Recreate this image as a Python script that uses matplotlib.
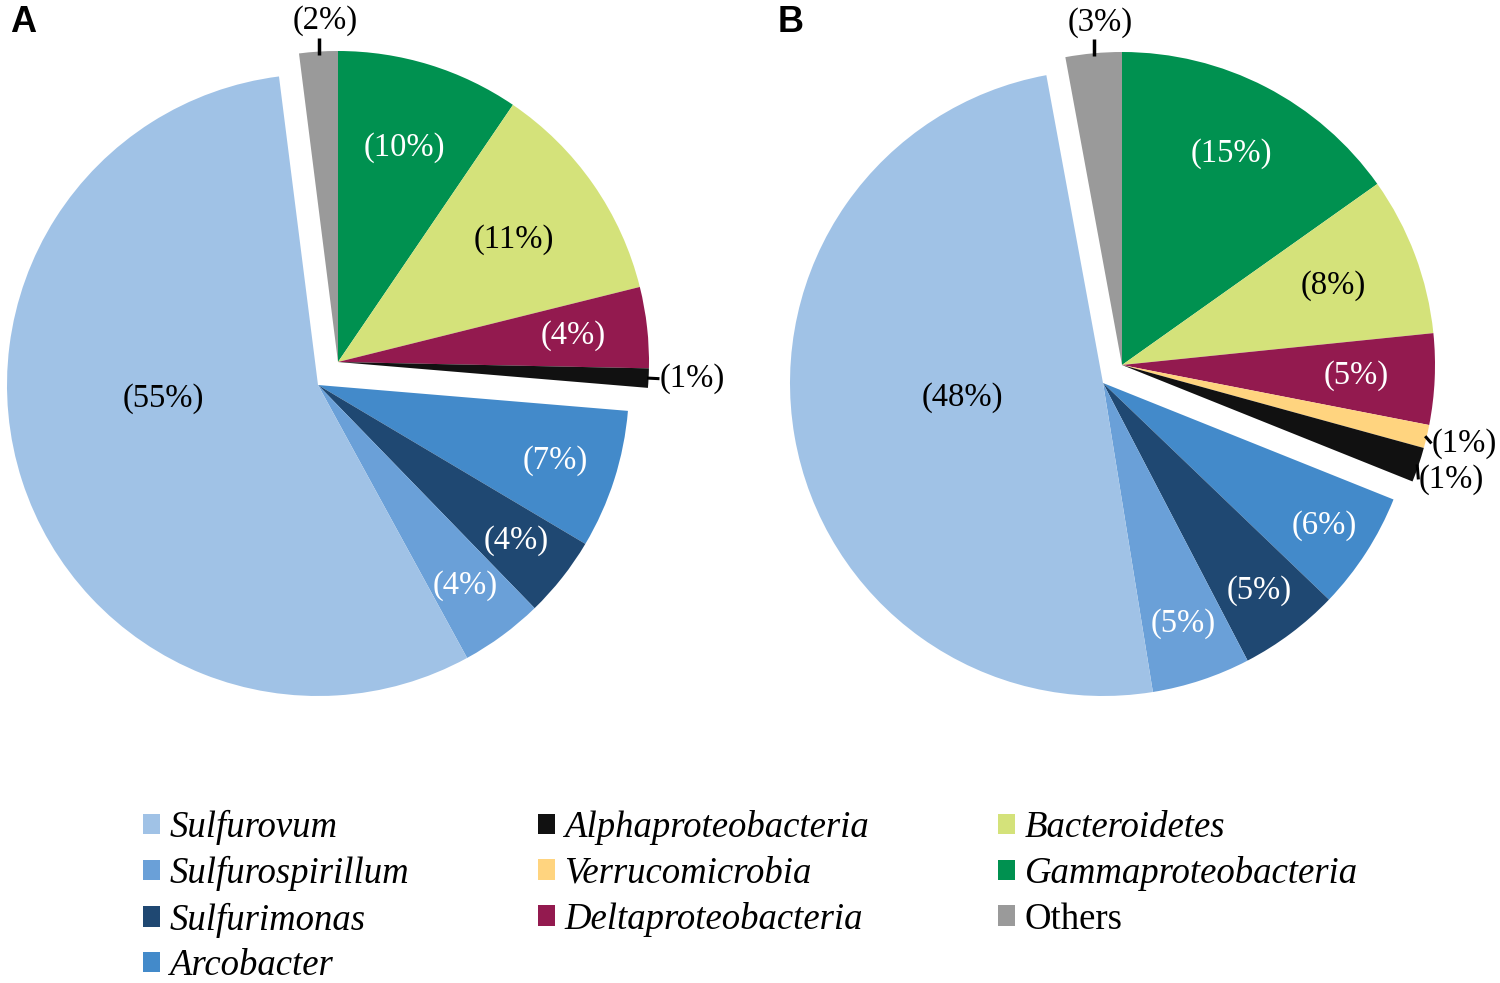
import matplotlib
matplotlib.use('Agg')
import matplotlib.pyplot as plt
import numpy as np
from matplotlib.patches import Patch
from matplotlib.font_manager import FontProperties

# ---------------- data ----------------
legend_order = ['Sulfurovum', 'Sulfurospirillum', 'Sulfurimonas', 'Arcobacter',
                'Alphaproteobacteria', 'Verrucomicrobia', 'Deltaproteobacteria',
                'Bacteroidetes', 'Gammaproteobacteria', 'Others']

# clockwise from 12 o'clock
pie_order = ['Gammaproteobacteria', 'Bacteroidetes', 'Deltaproteobacteria',
             'Verrucomicrobia', 'Alphaproteobacteria', 'Arcobacter',
             'Sulfurimonas', 'Sulfurospirillum', 'Sulfurovum', 'Others']

values_A = [9.5, 11.6, 4.2, 0.0, 1.0, 7.2, 4.2, 4.3, 55.9, 2.0]
labels_A = ['(10%)', '(11%)', '(4%)', '', '(1%)', '(7%)', '(4%)', '(4%)', '(55%)', '(2%)']

values_B = [15.2, 8.2, 4.7, 1.2, 1.8, 6.1, 5.2, 5.1, 49.7, 2.9]
labels_B = ['(15%)', '(8%)', '(5%)', '(1%)', '(1%)', '(6%)', '(5%)', '(5%)', '(48%)', '(3%)']

exploded = ['Others', 'Gammaproteobacteria', 'Bacteroidetes',
            'Deltaproteobacteria', 'Verrucomicrobia', 'Alphaproteobacteria']

# ---------------- styles ----------------
colors = {
    'Sulfurovum': '#A0C2E6',
    'Sulfurospirillum': '#6AA0D8',
    'Sulfurimonas': '#1F4872',
    'Arcobacter': '#438ACA',
    'Alphaproteobacteria': '#111111',
    'Verrucomicrobia': '#FFD47F',
    'Deltaproteobacteria': '#931A4F',
    'Bacteroidetes': '#D4E27A',
    'Gammaproteobacteria': '#009150',
    'Others': '#9A9A9A',
}

# (mode, distance, angle tweak, text colour)
layout_A = {
    'Gammaproteobacteria': ('in', 0.72, 0, 'white'),
    'Bacteroidetes': ('in', 0.69, 0, 'black'),
    'Deltaproteobacteria': ('in', 0.76, 0, 'white'),
    'Alphaproteobacteria': ('side', 1.035, 0, 'black'),
    'Arcobacter': ('in', 0.80, 0, 'white'),
    'Sulfurimonas': ('in', 0.81, 0, 'white'),
    'Sulfurospirillum': ('in', 0.80, 0, 'white'),
    'Sulfurovum': ('in', 0.50, -13, 'black'),
    'Others': ('top', 1.0, 0, 'black'),
}
layout_B = {
    'Gammaproteobacteria': ('in', 0.76, 0, 'white'),
    'Bacteroidetes': ('in', 0.72, 0, 'black'),
    'Deltaproteobacteria': ('in', 0.75, 0, 'white'),
    'Verrucomicrobia': ('side', 1.02, -1, 'black'),
    'Alphaproteobacteria': ('side', 1.015, -2.5, 'black'),
    'Arcobacter': ('in', 0.84, 0, 'white'),
    'Sulfurimonas': ('in', 0.83, 0, 'white'),
    'Sulfurospirillum': ('in', 0.81, 0, 'white'),
    'Sulfurovum': ('in', 0.45, -4, 'black'),
    'Others': ('top', 1.0, 0, 'black'),
}

W, H = 1500, 983
fig = plt.figure(figsize=(W / 100, H / 100), dpi=100)

label_font = dict(family='Liberation Serif', fontsize=23.5)


def make_axes(px0, px1, py0, py1, cx, cy, r):
    ax = fig.add_axes([px0 / W, 1 - py1 / H, (px1 - px0) / W, (py1 - py0) / H])
    return ax, ((px0 - cx) / r, (px1 - cx) / r), ((cy - py1) / r, (cy - py0) / r)


def draw(ax, xlim, ylim, values, labels, layout, offset):
    names = [n for n, v in zip(pie_order, values) if v > 0]
    vals = [v for v in values if v > 0]
    labs = [l for l, v in zip(labels, values) if v > 0]
    wedges, _ = ax.pie(vals, colors=[colors[n] for n in names], startangle=90,
                       counterclock=False, radius=1.0,
                       wedgeprops=dict(linewidth=0))
    for w, n, lab in zip(wedges, names, labs):
        c = np.array(offset) if n in exploded else np.zeros(2)
        w.set_center((c[0], c[1]))
        mode, d, tw, col = layout[n]
        mid = np.deg2rad((w.theta1 + w.theta2) / 2 + tw)
        if mode == 'in':
            ax.text(c[0] + d * np.cos(mid), c[1] + d * np.sin(mid), lab,
                    color=col, ha='center', va='center', **label_font)
        elif mode == 'side':
            m0 = np.deg2rad((w.theta1 + w.theta2) / 2)
            x0, y0 = c[0] + 0.995 * np.cos(m0), c[1] + 0.995 * np.sin(m0)
            xt, yt = c[0] + d * np.cos(mid), c[1] + d * np.sin(mid)
            ax.plot([x0, xt], [y0, yt], color='black', lw=2.2,
                    solid_capstyle='butt')
            ax.text(xt, yt, lab, color=col, ha='left', va='center', **label_font)
        elif mode == 'top':
            x0, y0 = c[0] + 0.99 * np.cos(mid), c[1] + 0.99 * np.sin(mid)
            ax.plot([x0, x0], [y0, y0 + 0.055], color='black', lw=2.5,
                    solid_capstyle='butt')
            ax.text(x0 + 0.02, y0 + 0.06, lab, color=col, ha='center',
                    va='bottom', **label_font)
    ax.set_xlim(*xlim)
    ax.set_ylim(*ylim)
    ax.set_aspect('auto')
    ax.axis('off')


axA, xlA, ylA = make_axes(0, 750, 0, 740, 318, 385, 311)
draw(axA, xlA, ylA, values_A, labels_A, layout_A, (20 / 311, 23 / 311))

axB, xlB, ylB = make_axes(750, 1500, 0, 740, 1103, 383, 313)
draw(axB, xlB, ylB, values_B, labels_B, layout_B, (19 / 313, 18 / 313))

fig.text(10 / W, 1 - 22 / H, 'A', family='Liberation Sans', fontsize=26,
         weight='bold', ha='left', va='center')
fig.text(778 / W, 1 - 22 / H, 'B', family='Liberation Sans', fontsize=26,
         weight='bold', ha='left', va='center')

handles = [Patch(facecolor=colors[n], edgecolor='none') for n in legend_order]
leg = fig.legend(handles, legend_order, loc='upper left',
                 bbox_to_anchor=(143 / W, 1 - 810 / H), ncol=3, frameon=False,
                 prop=FontProperties(family='Liberation Serif', style='italic', size=26.5),
                 handlelength=0.47, handleheight=0.47, handletextpad=0.25,
                 columnspacing=3.5, labelspacing=0.3, borderpad=0,
                 borderaxespad=0)
leg.get_texts()[-1].set_fontstyle('normal')

fig.savefig('out.png', dpi=100)
